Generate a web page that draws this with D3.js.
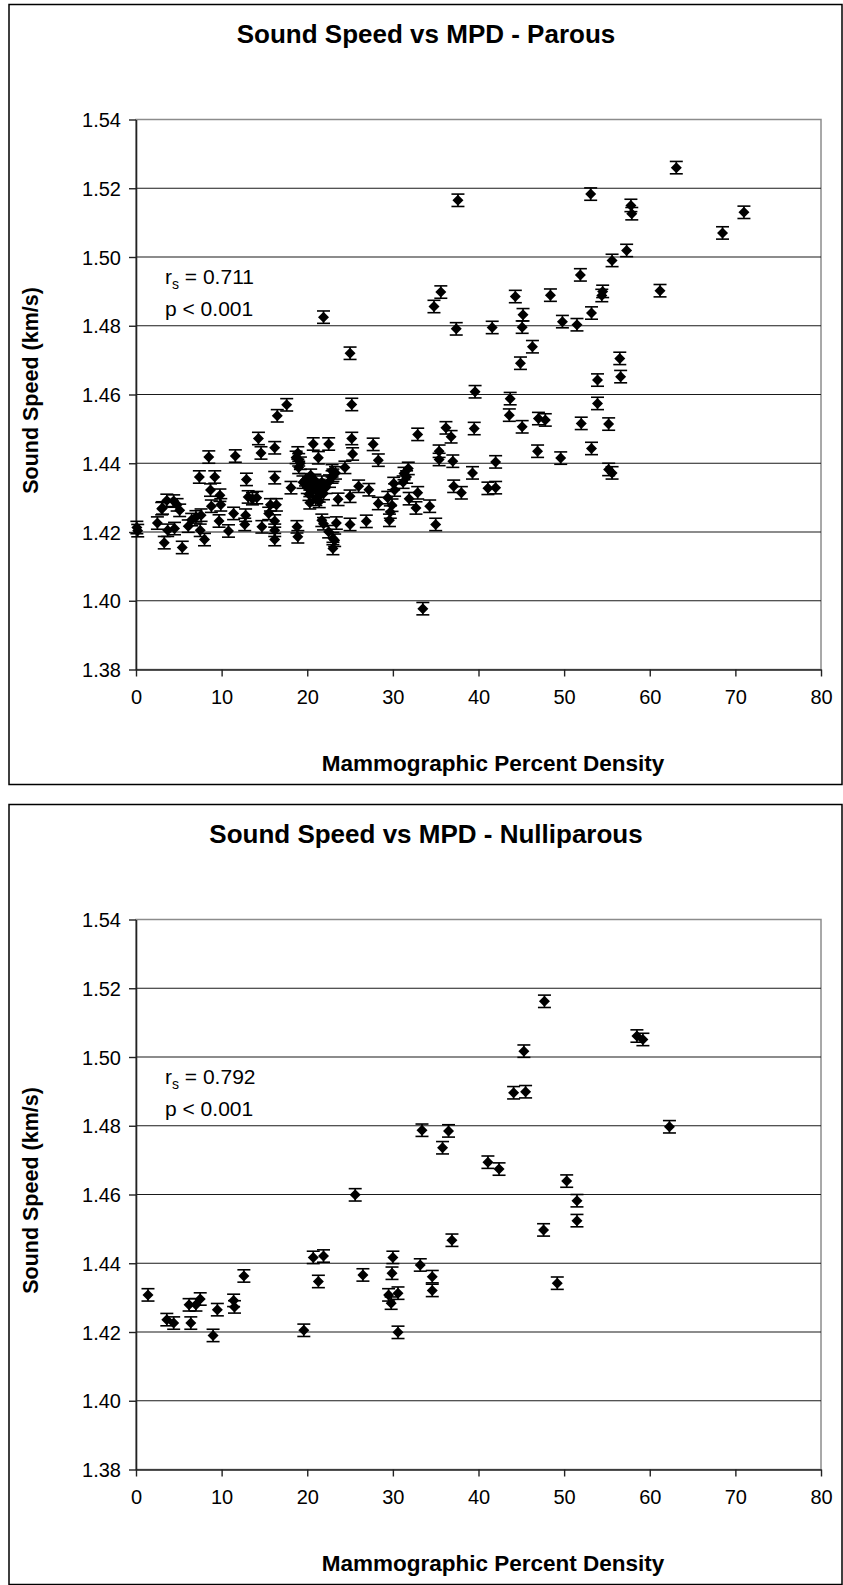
<!DOCTYPE html>
<html lang="en">
<head>
<meta charset="UTF-8">
<title>Sound Speed vs MPD</title>
<script src="https://d3js.org/d3.v7.min.js"></script>
<style>
    body { margin: 0; background: #fff; font-family: "Liberation Sans", Arial, sans-serif; }
    svg { display: block; }
</style>
</head>
<body>
<div id="chart"></div>
<script>
// axis ticks
const mpdTicks = [0, 10, 20, 30, 40, 50, 60, 70, 80];
const speedTicks = [1.38, 1.40, 1.42, 1.44, 1.46, 1.48, 1.50, 1.52, 1.54];

// half length of the error bars (km/s)
const speedError = 0.0018;

// Parous: mammographic percent density and sound speed (km/s)
const parousMPD = [
    63.1, 53.1, 57.8, 57.9, 71.0, 68.5, 57.3, 55.6, 51.9, 54.5,
    54.4, 61.2, 53.2, 49.8, 51.5, 56.5, 56.6, 53.9, 53.9, 52.0,
    55.2, 53.2, 49.6, 55.2, 55.6, 37.6, 35.6, 34.8, 37.4, 41.6,
    44.3, 45.2, 45.1, 48.4, 46.3, 44.9, 25.0, 39.6, 43.7, 43.6,
    21.9, 25.2, 45.1, 47.0, 47.8, 46.9, 25.2, 25.3, 32.9, 36.2,
    36.8, 27.7, 28.3, 35.4, 35.4, 37.0, 39.3, 42.0, 37.1, 38.0,
    41.1, 42.0, 31.8, 31.6, 31.3, 31.2, 30.1, 30.2, 29.9, 29.7,
    29.6, 29.4, 31.9, 32.9, 32.7, 34.3, 35.0, 33.5, 28.3, 26.9,
    25.0, 23.4, 23.6, 25.0, 26.0, 27.2, 22.9, 24.4, 23.0, 23.0,
    39.5, 17.6, 0.1, 0.2, 2.5, 3.3, 3.7, 3.0, 3.6, 3.1,
    4.4, 4.8, 5.1, 4.5, 5.4, 6.1, 6.5, 7.0, 7.6, 7.4,
    7.5, 8.0, 8.5, 8.7, 8.8, 9.2, 9.8, 9.9, 9.7, 10.8,
    11.4, 11.6, 12.9, 13.1, 12.8, 13.6, 12.7, 14.3, 14.6, 14.7,
    15.5, 15.7, 16.2, 16.2, 16.4, 16.2, 16.2, 16.2, 16.5, 18.1,
    18.7, 19.0, 18.9, 18.8, 18.9, 20.7, 21.3, 22.5, 20.3, 21.4,
    21.7, 21.9, 22.5, 23.2, 23.0, 19.5, 19.8, 20.0, 20.2, 20.3,
    20.4, 20.6, 20.9, 21.0, 21.2, 21.4, 21.4, 21.7, 21.9, 22.2,
    22.6, 22.9, 23.3, 19.2, 19.0, 14.1
];
const parousSpeed = [
    1.5260, 1.5183, 1.5150, 1.5126, 1.5130, 1.5070, 1.5019, 1.4990, 1.4948, 1.4900,
    1.4888, 1.4902, 1.4837, 1.4812, 1.4803, 1.4705, 1.4652, 1.4642, 1.4574, 1.4516,
    1.4514, 1.4443, 1.4415, 1.4382, 1.4372, 1.5165, 1.4898, 1.4856, 1.4791, 1.4795,
    1.4885, 1.4832, 1.4796, 1.4889, 1.4739, 1.4691, 1.4720, 1.4608, 1.4588, 1.4540,
    1.4825, 1.4571, 1.4506, 1.4530, 1.4526, 1.4435, 1.4472, 1.4427, 1.4484, 1.4503,
    1.4477, 1.4455, 1.4409, 1.4435, 1.4411, 1.4406, 1.4372, 1.4404, 1.4333, 1.4314,
    1.4327, 1.4329, 1.4385, 1.4360, 1.4370, 1.4345, 1.4341, 1.4322, 1.4278, 1.4258,
    1.4234, 1.4300, 1.4297, 1.4314, 1.4270, 1.4275, 1.4222, 1.3977, 1.4283, 1.4231,
    1.4222, 1.4226, 1.4295, 1.4304, 1.4333, 1.4323, 1.4378, 1.4388, 1.4181, 1.4152,
    1.4501, 1.4570, 1.4213, 1.4204, 1.4226, 1.4169, 1.4205, 1.4268, 1.4292, 1.4270,
    1.4290, 1.4279, 1.4263, 1.4210, 1.4155, 1.4217, 1.4236, 1.4244, 1.4249, 1.4360,
    1.4205, 1.4178, 1.4418, 1.4322, 1.4275, 1.4360, 1.4307, 1.4279, 1.4232, 1.4203,
    1.4254, 1.4421, 1.4353, 1.4302, 1.4249, 1.4297, 1.4222, 1.4472, 1.4430, 1.4215,
    1.4254, 1.4279, 1.4445, 1.4358, 1.4279, 1.4232, 1.4205, 1.4178, 1.4538, 1.4329,
    1.4417, 1.4388, 1.4430, 1.4215, 1.4186, 1.4456, 1.4416, 1.4456, 1.4285, 1.4289,
    1.4234, 1.4224, 1.4201, 1.4176, 1.4365, 1.4345, 1.4352, 1.4330, 1.4310, 1.4340,
    1.4365, 1.4325, 1.4350, 1.4295, 1.4318, 1.4335, 1.4305, 1.4345, 1.4312, 1.4330,
    1.4348, 1.4360, 1.4372, 1.4400, 1.4410, 1.4300
];

// Nulliparous
const nulliparousMPD = [
    1.4, 3.6, 4.4, 6.2, 6.4, 7.0, 7.5, 9.0, 9.5, 11.4,
    11.5, 12.6, 19.6, 20.7, 21.9, 21.3, 25.6, 26.5, 29.5, 29.8,
    30.6, 30.6, 30.0, 29.9, 33.2, 33.4, 34.6, 34.6, 35.8, 36.5,
    36.9, 41.1, 42.4, 44.1, 45.5, 45.3, 47.7, 47.6, 49.2, 50.3,
    51.5, 51.5, 58.5, 59.2, 62.3
];
const nulliparousSpeed = [
    1.4308, 1.4236, 1.4226, 1.4279, 1.4226, 1.4279, 1.4296, 1.4190, 1.4265, 1.4292,
    1.4273, 1.4363, 1.4205, 1.4417, 1.4421, 1.4347, 1.4599, 1.4366, 1.4308, 1.4284,
    1.4313, 1.4199, 1.4417, 1.4371, 1.4395, 1.4787, 1.4361, 1.4321, 1.4736, 1.4785,
    1.4467, 1.4694, 1.4674, 1.4896, 1.4899, 1.5017, 1.5162, 1.4497, 1.4342, 1.4639,
    1.4582, 1.4524, 1.5061, 1.5051, 1.4797
];

const W = 843, H = 1585;
const FONT = '"Liberation Sans", Arial, sans-serif';

const svg = d3.select('#chart').append('svg')
    .attr('width', W)
    .attr('height', H);

function drawChart(top, title, mpd, speed, rs) {
    const g = svg.append('g').attr('transform', `translate(0, ${top})`);

    // outer chart border
    g.append('rect')
        .attr('x', 9).attr('y', 4.5)
        .attr('width', 833).attr('height', 780)
        .attr('fill', '#fff')
        .attr('stroke', '#000')
        .attr('stroke-width', 1.5);

    const x = d3.scaleLinear().domain([0, 80]).range([136, 821]);
    const y = d3.scaleLinear().domain([1.38, 1.54]).range([669.5, 119.5]);

    // plot area border (grey top and right)
    g.append('rect')
        .attr('x', x(0)).attr('y', y(1.54))
        .attr('width', x(80) - x(0)).attr('height', y(1.38) - y(1.54))
        .attr('fill', 'none')
        .attr('stroke', '#8c8c8c')
        .attr('stroke-width', 1.5);

    // gridlines
    g.selectAll('.grid')
        .data(speedTicks.filter(d => d > 1.381 && d < 1.539))
        .enter().append('line')
        .attr('class', 'grid')
        .attr('x1', x(0)).attr('x2', x(80))
        .attr('y1', d => y(d)).attr('y2', d => y(d))
        .attr('stroke', '#1a1a1a')
        .attr('stroke-width', 1.2);

    // axes
    const yAxis = g.append('g')
        .attr('transform', `translate(${x(0)}, 0)`)
        .call(d3.axisLeft(y).tickValues(speedTicks).tickFormat(d3.format('.2f')).tickSize(7).tickSizeOuter(0));
    const xAxis = g.append('g')
        .attr('transform', `translate(0, ${y(1.38)})`)
        .call(d3.axisBottom(x).tickValues(mpdTicks).tickFormat(d3.format('d')).tickSize(7).tickSizeOuter(0));

    [yAxis, xAxis].forEach(a => {
        a.select('.domain').attr('stroke', '#222').attr('stroke-width', 1.6);
        a.selectAll('.tick line').attr('stroke', '#222').attr('stroke-width', 1.4);
        a.selectAll('.tick text')
            .attr('fill', '#000')
            .style('font-size', '20px')
            .style('font-family', FONT);
    });
    yAxis.selectAll('.tick text').attr('x', -15).attr('dy', '0.36em');
    xAxis.selectAll('.tick text').attr('y', 20).attr('dy', '0.71em');

    // title
    g.append('text')
        .attr('x', 426).attr('y', 43)
        .attr('text-anchor', 'middle')
        .style('font-family', FONT)
        .style('font-weight', 'bold')
        .style('font-size', '26px')
        .text(title);

    // axis titles
    g.append('text')
        .attr('x', 493).attr('y', 771)
        .attr('text-anchor', 'middle')
        .style('font-family', FONT)
        .style('font-weight', 'bold')
        .style('font-size', '22.5px')
        .text('Mammographic Percent Density');

    g.append('text')
        .attr('transform', `translate(38, ${(y(1.38) + y(1.54)) / 2 - 4}) rotate(-90)`)
        .attr('text-anchor', 'middle')
        .style('font-family', FONT)
        .style('font-weight', 'bold')
        .style('font-size', '21.5px')
        .text('Sound Speed (km/s)');

    // correlation note
    const note = g.append('text')
        .attr('x', 165).attr('y', 284)
        .style('font-family', FONT)
        .style('font-size', '21px');
    note.append('tspan').text('r');
    note.append('tspan').attr('dy', 5).style('font-size', '14px').text('s');
    note.append('tspan').attr('dy', -5).text(` = ${rs}`);

    g.append('text')
        .attr('x', 165).attr('y', 316)
        .style('font-family', FONT)
        .style('font-size', '21px')
        .text('p < 0.001');

    // points with error bars
    const pts = mpd.map((m, i) => ({ m: m, s: speed[i] }));
    const cap = 6.5;

    const bars = g.append('g').attr('stroke', '#000').attr('stroke-width', 1.6);
    pts.forEach(d => {
        const cx = x(d.m);
        const y1 = y(d.s - speedError), y2 = y(d.s + speedError);
        bars.append('line').attr('x1', cx).attr('x2', cx).attr('y1', y1).attr('y2', y2);
        bars.append('line').attr('x1', cx - cap).attr('x2', cx + cap).attr('y1', y1).attr('y2', y1);
        bars.append('line').attr('x1', cx - cap).attr('x2', cx + cap).attr('y1', y2).attr('y2', y2);
    });

    g.append('g').selectAll('path')
        .data(pts)
        .enter().append('path')
        .attr('d', 'M0,-5.5L5.5,0L0,5.5L-5.5,0Z')
        .attr('transform', d => `translate(${x(d.m)}, ${y(d.s)})`)
        .attr('fill', '#000');
}

drawChart(0, 'Sound Speed vs MPD - Parous', parousMPD, parousSpeed, '0.711');
drawChart(800, 'Sound Speed vs MPD - Nulliparous', nulliparousMPD, nulliparousSpeed, '0.792');
</script>
</body>
</html>
